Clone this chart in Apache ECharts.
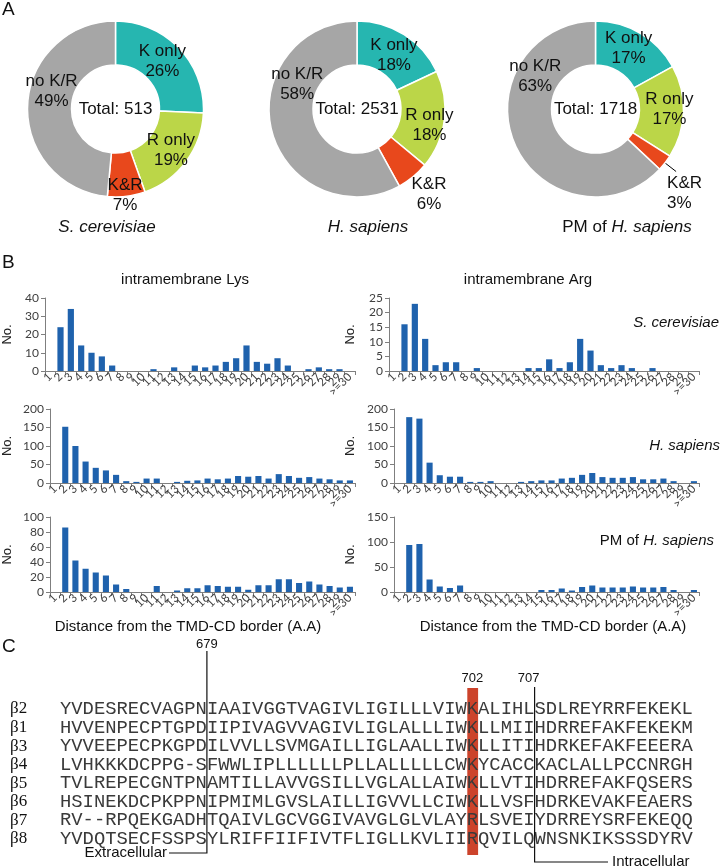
<!DOCTYPE html>
<html><head><meta charset="utf-8">
<script src="https://cdn.jsdelivr.net/npm/echarts@6/dist/echarts.min.js"></script>
<style>html,body{margin:0;padding:0;background:#fff}#c{width:722px;height:868px}</style>
</head><body><div id="c"></div><script>
// ---------- DATA ----------
const pieNames = ['K only', 'R only', 'K&R', 'no K/R'];
const pieScer = [26, 19, 7, 49];
const pieHsap = [18, 18, 6, 58];
const piePm = [17, 17, 3, 63];
const pieTotals = [513, 2531, 1718];

const distCats = ['1','2','3','4','5','6','7','8','9','10','11','12','13','14','15','16','17','18','19','20','21','22','23','24','25','26','27','28','29','>=30'];
const lysScer = [0,24,34,14,10,8,3,0,0,0,1,0,2,0,3,2,3,5,7,14,5,4,7,3,0,1,2,1,1,0];
const argScer = [0,16,23,11,2,3,3,0,1,0,0,0,0,1,1,4,1,3,11,7,2,1,2,1,0,1,0,0,0,0];
const lysHsap = [0,152,100,58,41,34,22,5,3,12,12,0,3,6,7,12,10,12,19,17,19,12,24,19,14,16,12,10,7,7];
const argHsap = [0,178,174,55,21,17,17,3,3,5,0,0,3,5,7,7,12,14,22,27,16,14,14,16,10,10,12,5,0,5];
const lysPm = [0,86,42,31,26,22,10,4,0,0,8,0,2,5,5,9,8,7,7,3,9,9,17,17,12,14,10,8,6,7];
const argPm = [0,94,96,25,11,8,13,0,0,0,0,0,0,0,4,4,7,3,10,13,9,9,9,11,9,9,10,4,0,4];

const yMaxes = [40, 25, 200, 200, 100, 150];
const yIntervals = [10, 5, 50, 50, 20, 50];

const seqNames = ['β2','β1','β3','β4','β5','β6','β7','β8'];
const seqRows = [
  'YVDESRECVAGPNIAAIVGGTVAGIVLIGILLLVIWKALIHLSDLREYRRFEKEKL',
  'HVVENPECPTGPDIIPIVAGVVAGIVLIGLALLLIWKLLMIIHDRREFAKFEKEKM',
  'YVVEEPECPKGPDILVVLLSVMGAILLIGLAALLIWKLLITIHDRKEFAKFEEERA',
  'LVHKKKDCPPG-SFWWLIPLLLLLLPLLALLLLLCWKYCACCKACLALLPCCNRGH',
  'TVLREPECGNTPNAMTILLAVVGSILLVGLALLAIWKLLVTIHDRREFAKFQSERS',
  'HSINEKDCPKPPNIPMIMLGVSLAILLIGVVLLCIWKLLVSFHDRKEVAKFEAERS',
  'RV--RPQEKGADHTQAIVLGCVGGIVAVGLGLVLAYRLSVEIYDRREYSRFEKEQQ',
  'YVDQTSECFSSPSYLRIFFIIFIVTFLIGLLKVLIIRQVILQWNSNKIKSSSDYRV'
];
const markCols = [13, 36, 42];          // column boundaries / highlighted column
const markLabels = ['679', '702', '707'];

// ---------- STYLE ----------
const pieColors = ['#26b6b0', '#bbd648', '#e8481c', '#a6a6a6'];
const barColor = '#1f62ad';
const SANS = "'Liberation Sans', Arial, sans-serif";
const pieCenters = [[115.5, 109], [357, 109], [595.5, 109]];
const pieLabelNudge = [
  [[-3, 0], [0, 0], [1, 18], [5, -14]],
  [[0, 5], [4, 8], [28, 32], [7, -42]],
  [[-2, -1], [5, -2], [-14, 22], [3, -60]]
];

const chart = echarts.init(document.getElementById('c'), null, {renderer: 'canvas'});

function pieSeries(idx, vals) {
  return {
    type: 'pie', center: pieCenters[idx], radius: [44, 88], startAngle: 90, clockwise: true,
    avoidLabelOverlap: false, silent: true,
    itemStyle: {borderColor: '#fff', borderWidth: 1.5},
    label: {show: true, position: 'inside', fontFamily: SANS, fontSize: 17, color: '#111', lineHeight: 20,
      formatter: p => p.name + '\n' + p.value + '%'},
    labelLine: {show: false},
    labelLayout: p => { const n = pieLabelNudge[idx][p.dataIndex]; return {dx: n[0], dy: n[1]}; },
    data: vals.map((v, i) => {
      const d = {name: pieNames[i], value: v, itemStyle: {color: pieColors[i]}};
      if (idx === 2 && i === 2) {
        d.label = {position: 'outside', align: 'center'};
        d.labelLine = {show: true, length: 14, length2: 0, lineStyle: {color: '#000', width: 1}};
      }
      return d;
    })
  };
}

const grids = [
  {left: 43, top: 298, width: 312, height: 73},
  {left: 389, top: 298, width: 310, height: 73},
  {left: 48, top: 409, width: 307, height: 74},
  {left: 394, top: 409, width: 305, height: 74},
  {left: 48, top: 517, width: 307, height: 75},
  {left: 394, top: 517, width: 305, height: 75}
];
const nameGaps = [31, 32, 36, 37, 36, 37];
const barData = [lysScer, argScer, lysHsap, argHsap, lysPm, argPm];

const xAxes = grids.map((g, i) => ({
  type: 'category', gridIndex: i, data: distCats, boundaryGap: true,
  axisLine: {lineStyle: {color: '#7f7f7f', width: 1}},
  axisTick: {show: true, length: 4, lineStyle: {color: '#7f7f7f'}},
  axisLabel: {interval: 0, rotate: 45, fontSize: 11.5, color: '#404040', fontFamily: 'Lato, sans-serif', margin: 4}
}));
const yAxes = grids.map((g, i) => ({
  type: 'value', gridIndex: i, min: 0, max: yMaxes[i], interval: yIntervals[i],
  name: 'No.', nameLocation: 'middle', nameRotate: 90, nameGap: nameGaps[i],
  nameTextStyle: {fontFamily: SANS, fontSize: 13, color: '#222'},
  splitLine: {show: false},
  axisLine: {show: true, lineStyle: {color: '#7f7f7f'}},
  axisTick: {show: true, length: 4, lineStyle: {color: '#7f7f7f'}},
  axisLabel: {fontSize: 12, color: '#404040', fontFamily: 'Lato, sans-serif', margin: 6}
}));
const barSeries = barData.map((d, i) => ({
  type: 'bar', xAxisIndex: i, yAxisIndex: i, data: d, barWidth: '60%', silent: true,
  itemStyle: {color: barColor}
}));

// ---------- TEXT / PANEL C ----------
const txt = (text, x, y, size, opts = {}) => ({
  type: 'text', x, y, silent: true,
  style: Object.assign({text, font: (opts.italic ? 'italic ' : '') + size + 'px ' + (opts.family || SANS),
    fill: opts.fill || '#111', textAlign: opts.align || 'center', textVerticalAlign: 'middle'}, opts.extra || {})
});

const seqX0 = 60, charW = 11.3, rowY0 = 709, rowH = 18.57;
const colX = c => seqX0 + c * charW;
const graphics = [
  txt('A', 2, 10, 19, {align: 'left'}),
  txt('B', 2, 263, 19, {align: 'left'}),
  txt('C', 2, 647, 19, {align: 'left'}),
  ...pieTotals.map((t, i) => txt('Total: ' + t, pieCenters[i][0], pieCenters[i][1], 17)),
  txt('S. cerevisiae', 107, 227, 17, {italic: true}),
  txt('H. sapiens', 368, 227, 17, {italic: true}),
  {type: 'text', x: 627, y: 227, silent: true, style: {text: 'PM of {i|H. sapiens}', font: '17px ' + SANS, fill: '#111',
    textAlign: 'center', textVerticalAlign: 'middle', rich: {i: {fontStyle: 'italic', fontSize: 17, fontFamily: SANS}}}},
  txt('intramembrane Lys', 185, 280, 15),
  txt('intramembrane Arg', 528, 280, 15),
  txt('S. cerevisiae', 719, 323, 15, {italic: true, align: 'right'}),
  txt('H. sapiens', 720, 446, 15, {italic: true, align: 'right'}),
  {type: 'text', x: 714, y: 541, silent: true, style: {text: 'PM of {i|H. sapiens}', font: '15px ' + SANS, fill: '#111',
    textAlign: 'right', textVerticalAlign: 'middle', rich: {i: {fontStyle: 'italic', fontSize: 15, fontFamily: SANS}}}},
  txt('Distance from the TMD-CD border (A.A)', 188, 627, 15),
  txt('Distance from the TMD-CD border (A.A)', 553, 627, 15),
  // highlight column
  {type: 'rect', silent: true, z: 1, shape: {x: colX(markCols[1]) + 0.5, y: 688, width: charW - 0.5, height: 167},
    style: {fill: '#cc432b'}},
  // boundary lines
  {type: 'polyline', silent: true, z: 3, shape: {points: [[colX(markCols[0]), 651], [colX(markCols[0]), 853], [169, 853]]},
    style: {stroke: '#111', lineWidth: 1.2, fill: null}},
  {type: 'polyline', silent: true, z: 3, shape: {points: [[colX(markCols[2]), 687], [colX(markCols[2]), 862], [608, 862]]},
    style: {stroke: '#111', lineWidth: 1.2, fill: null}},
  txt(markLabels[0], colX(markCols[0]), 644, 13),
  txt(markLabels[1], colX(markCols[1]) + charW / 2, 678, 13),
  txt(markLabels[2], colX(markCols[2]) - 6, 678, 13),
  txt('Extracellular', 167, 853, 15, {align: 'right'}),
  txt('Intracellular', 612, 862, 15, {align: 'left'}),
  ...seqNames.map((n, i) => txt(n, 10, rowY0 + i * rowH, 17, {align: 'left', family: "'Liberation Serif', 'Times New Roman', serif"})),
  ...seqRows.map((s, i) => Object.assign(txt(s, seqX0, rowY0 + i * rowH, charW / 0.6, {align: 'left', family: "'Liberation Mono', monospace", fill: '#3a3a3a'}), {z: 2}))
];

chart.setOption({
  animation: false,
  backgroundColor: '#fff',
  textStyle: {fontFamily: SANS},
  grid: grids,
  xAxis: xAxes,
  yAxis: yAxes,
  series: [pieSeries(0, pieScer), pieSeries(1, pieHsap), pieSeries(2, piePm), ...barSeries],
  graphic: graphics
});
</script></body></html>
